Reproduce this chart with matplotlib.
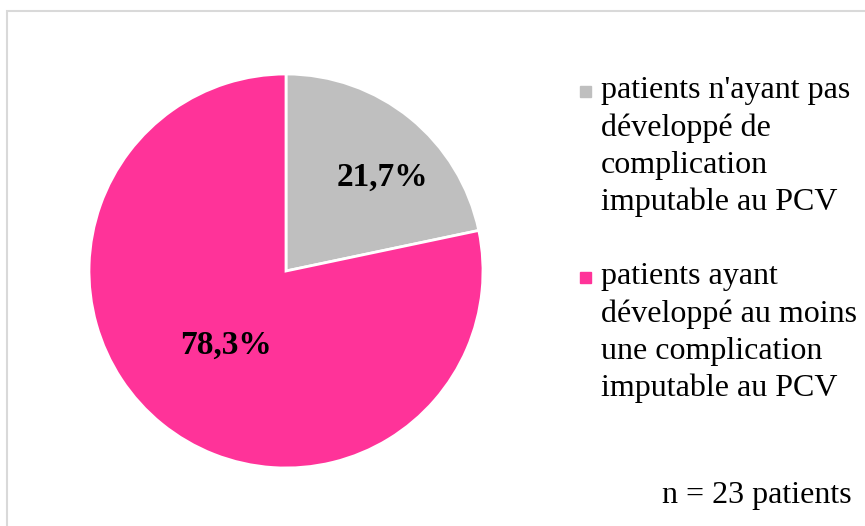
import matplotlib.pyplot as plt
import matplotlib.patches as mpatches

plt.rcParams['font.family'] = ['Liberation Serif', 'DejaVu Serif']

labels = ["patients n'ayant pas\ndéveloppé de\ncomplication\nimputable au PCV",
          "patients ayant\ndéveloppé au moins\nune complication\nimputable au PCV"]
values = [21.7, 78.3]
colors = ['#BFBFBF', '#FF3399']
note = "n = 23 patients"

W, H = 865, 526
fig = plt.figure(figsize=(W / 100, H / 100), dpi=100)

# cadre gris clair (coupé à droite et en bas)
fig.patches.append(mpatches.Rectangle((7.5 / W, -0.1), 2, 1.1 - 11 / H, transform=fig.transFigure,
                                      fill=False, edgecolor='#D9D9D9', linewidth=1.5))

cx, cy, r = 286, 271, 197
ax = fig.add_axes([(cx - r) / W, (H - cy - r) / H, 2 * r / W, 2 * r / H])
wedges, texts, autotexts = ax.pie(values, colors=colors, startangle=90, counterclock=False,
                                  autopct=lambda p: f"{p:.1f}%".replace('.', ','),
                                  wedgeprops=dict(edgecolor='white', linewidth=2),
                                  textprops=dict(fontsize=24, fontweight='bold', color='black'))
autotexts[0].set_position((0.492, 0.475))
autotexts[1].set_position((-0.305, -0.375))
ax.set_xlim(-1, 1)
ax.set_ylim(-1, 1)
ax.axis('off')

# légende
tops = [76, 262]
for lab, col, top in zip(labels, colors, tops):
    fig.patches.append(mpatches.Rectangle((580 / W, 1 - (top + 21) / H), 11 / W, 11 / H,
                                          transform=fig.transFigure, color=col))
    fig.text(601 / W, 1 - top / H, lab, fontsize=23, va='top', ha='left', linespacing=1.36)

fig.text(852 / W, 1 - 495 / H, note, fontsize=23, va='center', ha='right')

fig.savefig('out.png', dpi=100)
